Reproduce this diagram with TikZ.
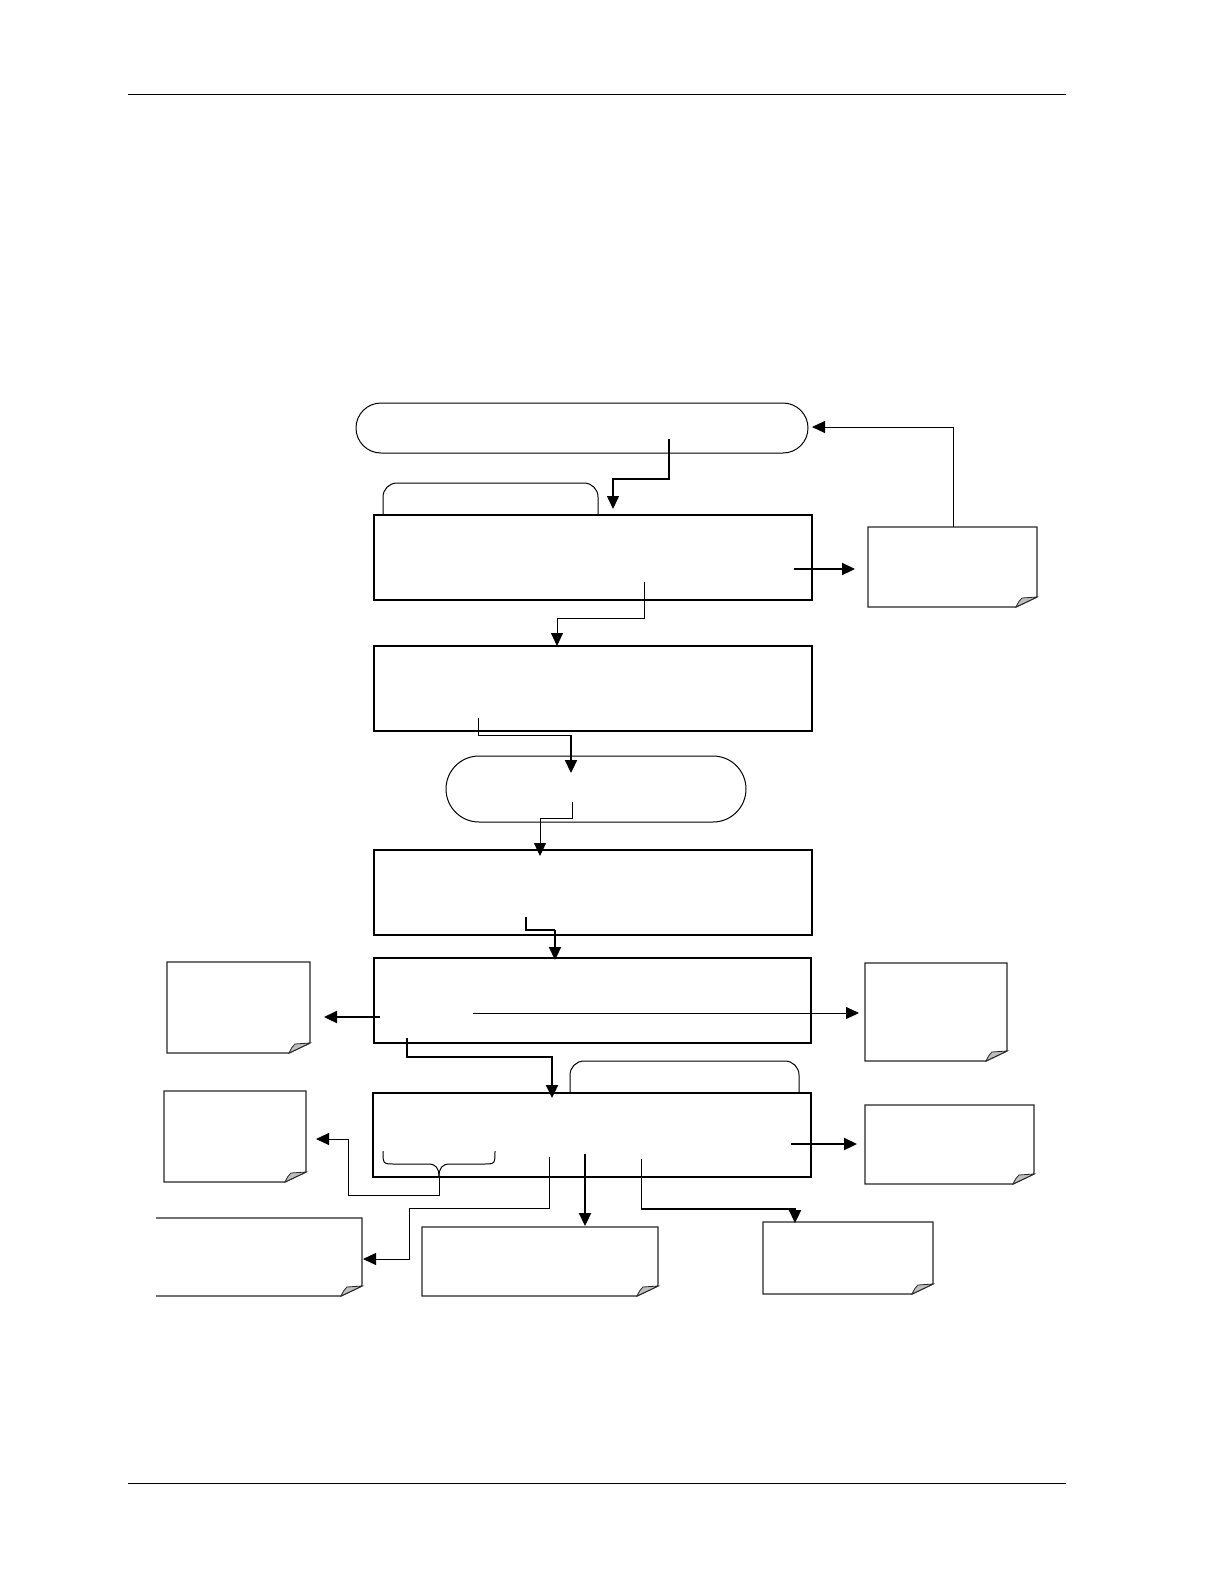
\documentclass[tikz,border=0pt]{standalone}
\usetikzlibrary{arrows.meta}
\tikzset{
  box/.style={draw, line width=1.5pt, inner sep=0pt, outer sep=0pt, anchor=north west},
  termbox/.style={draw, line width=1pt, inner sep=0pt, outer sep=0pt, anchor=north west},
  notebox/.style={draw=none, inner sep=0pt, outer sep=0pt, anchor=north west},
  noteline/.style={draw=black!85, line width=1.3pt, line join=miter},
  curl/.style={draw=black!85, fill=black!25, line width=0.8pt},
  tabline/.style={draw, line width=1pt, rounded corners=14pt},
  thin/.style={line width=1pt},
  mid/.style={line width=1.5pt},
  thick2/.style={line width=2.2pt},
  arr/.style={-{Triangle[length=13pt,width=12pt]}},
  rule/.style={line width=1pt}
}
\newcommand\drawnote[1]{%
  \draw[noteline] (#1.north west) -- (#1.north east) -- ([yshift=10pt]#1.south east)
     -- ([xshift=-21pt]#1.south east) -- (#1.south west) -- cycle;
  \filldraw[curl] ([xshift=-21pt]#1.south east) .. controls ([xshift=-18pt,yshift=6pt]#1.south east) .. ([xshift=-15pt,yshift=9pt]#1.south east)
     -- ([yshift=10pt]#1.south east) -- cycle;
}
\begin{document}
\begin{tikzpicture}[x=1pt,y=-1pt]
\useasboundingbox (0,0) rectangle (1224,1584);
% page rules
\coordinate (hl) at (128,95); \coordinate (hr) at (1066,95);
\coordinate (fl) at (128,1483); \coordinate (fr) at (1066,1483);
\draw[rule] (hl) -- (hr);
\draw[rule] (fl) -- (fr);

% tabs
\draw[tabline] (383,515) -- (383,483) -- (598,483) -- (598,515);
\draw[tabline] (570,1093) -- (570,1061) -- (799,1061) -- (799,1093);

% main boxes
\node[termbox, rounded corners=25pt, minimum width=452pt, minimum height=50pt] (t1) at (356,403) {};
\node[box, minimum width=438pt, minimum height=85pt] (b1) at (374,515) {};
\node[box, minimum width=438pt, minimum height=85pt] (b2) at (374,646) {};
\node[termbox, rounded corners=33pt, minimum width=300pt, minimum height=66pt] (t2) at (446,756) {};
\node[box, minimum width=438pt, minimum height=85pt] (b3) at (374,850) {};
\node[box, minimum width=437pt, minimum height=85pt] (b4) at (374,958) {};
\node[box, line width=1.2pt, minimum width=438pt, minimum height=84pt] (b5) at (373,1093) {};

% notes
\node[notebox, minimum width=169pt, minimum height=80pt] (n1) at (868,527) {};
\node[notebox, minimum width=143pt, minimum height=91pt] (nL1) at (167,962) {};
\node[notebox, minimum width=142pt, minimum height=98pt] (nR1) at (865,963) {};
\node[notebox, minimum width=142pt, minimum height=91pt] (nL2) at (164,1091) {};
\node[notebox, minimum width=169pt, minimum height=79pt] (nR2) at (865,1105) {};
\node[notebox, minimum width=206pt, minimum height=78pt] (nL3) at (156,1218) {};
\node[notebox, minimum width=236pt, minimum height=69pt] (nB1) at (422,1227) {};
\node[notebox, minimum width=170pt, minimum height=72pt] (nB2) at (763,1222) {};
\drawnote{n1}
\drawnote{nL1}
\drawnote{nR1}
\drawnote{nL2}
\drawnote{nR2}
\drawnote{nB1}
\drawnote{nB2}
% open-left note
\draw[noteline] (nL3.north west) -- (nL3.north east) -- ([yshift=10pt]nL3.south east)
   -- ([xshift=-21pt]nL3.south east) -- (nL3.south west);
\filldraw[curl] ([xshift=-21pt]nL3.south east) .. controls ([xshift=-18pt,yshift=6pt]nL3.south east) .. ([xshift=-15pt,yshift=9pt]nL3.south east)
   -- ([yshift=10pt]nL3.south east) -- cycle;

% brace
\coordinate (bracetip) at (439,1177);
\draw[thin] (383,1151) .. controls (383,1164) and (383,1164) .. (395,1164) -- (428,1164)
   .. controls (436,1164) and (439,1168) .. (bracetip);
\draw[thin] (495,1151) .. controls (495,1164) and (495,1164) .. (483,1164) -- (450,1164)
   .. controls (442,1164) and (439,1168) .. (bracetip);

% connector coordinates
\coordinate (s1) at (669,439);  \coordinate (e1) at (613,509);
\coordinate (s2) at (953,527);  \coordinate (e2) at (812,427);
\coordinate (s3) at (794,569);  \coordinate (e3) at (855,569);
\coordinate (s4) at (644,582);  \coordinate (e4) at (557,646);
\coordinate (s5) at (478,718);  \coordinate (e5) at (571,773);
\coordinate (s6) at (572,802);  \coordinate (e6) at (540,856);
\coordinate (s7) at (526,917);  \coordinate (e7) at (555,960);
\coordinate (s8) at (380,1017); \coordinate (e8) at (324,1017);
\coordinate (s9) at (473,1013); \coordinate (e9) at (859,1013);
\coordinate (s10) at (407,1038); \coordinate (e10) at (552,1098);
\coordinate (s11) at (791,1144); \coordinate (e11) at (857,1144);
\coordinate (e12) at (316,1139);
\coordinate (s13) at (549,1157); \coordinate (e13) at (363,1259);
\coordinate (s14) at (585,1154); \coordinate (e14) at (585,1226);
\coordinate (s15) at (641,1159); \coordinate (e15) at (795,1223);

% connectors
\draw[mid, arr] (s1) -- (669,479) -- (613,479) -- (e1);
\draw[thin, arr] (s2) -- (953,427) -- (e2);
\draw[thick2, arr] (s3) -- (e3);
\draw[thin, arr] (s4) -- (644,618) -- (557,618) -- (e4);
\draw[thin] (s5) -- (478,735) -- (571,735);
\draw[thick2, arr] (571,735) -- (e5);
\draw[thin, arr] (s6) -- (572,818) -- (540,818) -- (e6);
\draw[mid] (s7) -- (526,930) -- (555,930);
\draw[thick2, arr] (555,930) -- (e7);
\draw[thick2, arr] (s8) -- (e8);
\draw[thin, arr] (s9) -- (e9);
\draw[thick2, arr] (s10) -- (407,1057) -- (552,1057) -- (e10);
\draw[thick2, arr] (s11) -- (e11);
\draw[thin, arr] (bracetip) -- (439,1195) -- (348,1195) -- (348,1139) -- (e12);
\draw[thin, arr] (s13) -- (549,1208) -- (409,1208) -- (409,1259) -- (e13);
\draw[thick2, arr] (s14) -- (e14);
\draw[thin] (s15) -- (641,1209);
\draw[thick2, arr] (641,1209) -- (795,1209) -- (e15);
\end{tikzpicture}
\end{document}
